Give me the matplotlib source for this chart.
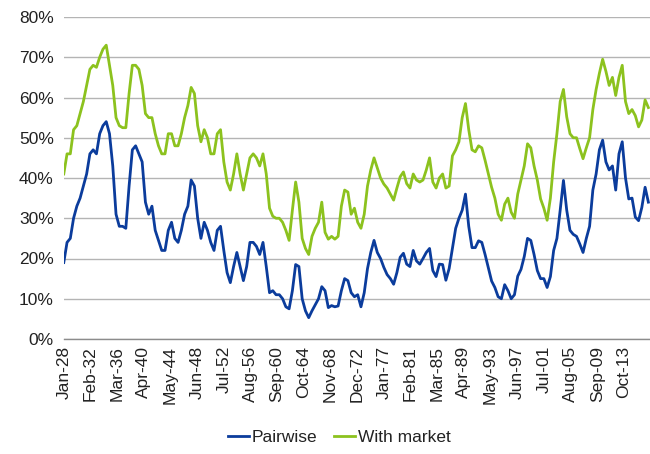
import matplotlib
matplotlib.use("Agg")
import matplotlib.pyplot as plt
from matplotlib.ticker import FuncFormatter

# Half-yearly readings (Jan-1928 onwards), values in %
pairwise = [
    19, 24, 25, 30, 33, 35, 38, 41, 46, 47,
    46, 51, 53, 54, 51, 43, 31, 28, 28, 27.5,
    38, 47, 48, 46, 44, 34, 31, 33, 27, 24.5,
    22, 22, 27, 29, 25, 24, 27, 31, 33, 39.5,
    38, 30, 25, 29, 27, 24, 22, 27, 28, 22,
    16.5, 14, 18, 21.5, 18, 14.5, 18, 24, 24, 23,
    21, 24, 18, 11.5, 12, 11, 11, 10, 8, 7.5,
    12, 18.5, 18, 10, 7, 5.3, 7, 8.5, 10, 13,
    12, 7.8, 8.3, 8, 8.2, 12, 15, 14.5, 11.5, 10.5,
    11, 8, 11.5, 17.5, 21.5, 24.5, 21.5, 20, 17.8, 16,
    15, 13.6, 16.5, 20.3, 21.3, 18.6, 18, 22, 19.4, 18.6,
    20, 21.5, 22.5, 17, 15.5, 18.6, 18.5, 14.6, 17.5, 22.5,
    27.5, 30, 32, 36, 28, 22.7, 22.7, 24.4, 24, 21,
    17.7, 14.4, 12.8, 10.5, 10, 13.5, 12, 10, 11, 15.6,
    17.3, 20.5, 25, 24.5, 21, 17, 15, 15, 12.8, 15.5,
    22, 25, 32, 39.4, 32, 27, 26, 25.5, 23.6, 21.5,
    25, 28, 37, 41, 47, 49.4, 44, 42, 43, 37,
    46, 49, 40, 34.8, 35, 30.3, 29.4, 32.7, 37.7, 34,
]
with_market = [
    41, 46, 46, 52, 53, 56, 59, 63, 67, 68,
    67.5, 70, 72, 73, 68, 63, 55, 53, 52.5, 52.5,
    61, 68, 68, 67, 63, 56, 55, 55, 51, 48,
    46, 46, 51, 51, 48, 48, 51, 55, 58, 62.5,
    61, 53, 49, 52, 50, 46, 46, 51, 52, 44,
    39, 37, 41, 46, 41, 37, 41, 45, 46, 45,
    43, 46, 41, 32.5, 30.5, 30, 30, 29, 27, 24.5,
    32, 39, 34, 25, 22.5, 21, 25.5, 27.5, 29, 34,
    26.5, 24.8, 25.5, 24.8, 25.5, 33, 37, 36.5, 31, 32.5,
    29, 27.5, 31, 38, 42, 45, 42.5, 40, 38.5, 37.5,
    36, 34.5, 37.5, 40.3, 41.5, 38.6, 37.5, 41, 39.5, 39,
    39.5, 42, 45, 39, 37.5, 40, 41, 37.5, 38, 45.5,
    47, 49, 55, 58.5, 52, 47, 46.5, 48, 47.5, 44.4,
    41, 37.7, 35, 31, 29.5, 33.5, 35, 31.5, 30, 36,
    39.5, 43, 48.5, 47.5, 43, 39.5, 34.8, 32.5, 29.5, 35,
    44, 51, 59, 62, 55.2, 51, 50, 50, 47.3, 44.8,
    47.5, 50, 57, 62, 66, 69.5, 66.5, 63, 65, 60.5,
    65, 68, 59, 56, 57, 55.5, 52.7, 54.4, 59.4, 57.5,
]
tick_labels = ["Jan-28", "Feb-32", "Mar-36", "Apr-40", "May-44", "Jun-48",
               "Jul-52", "Aug-56", "Sep-60", "Oct-64", "Nov-68", "Dec-72",
               "Jan-77", "Feb-81", "Mar-85", "Apr-89", "May-93", "Jun-97",
               "Jul-01", "Aug-05", "Sep-09", "Oct-13"]
series_names = ["Pairwise", "With market"]

months = [6 * i for i in range(len(pairwise))]
tick_months = [49 * i for i in range(len(tick_labels))]

plt.rcParams['font.family'] = ['Liberation Sans', 'DejaVu Sans']

fig = plt.figure(figsize=(6.5, 4.54), dpi=100)
ax = fig.add_axes([63.5 / 650, 1 - 339 / 454, 1 - 63.5 / 650, (339 - 17) / 454])

blue = '#0B3C9C'
green = '#8CC21E'
l1, = ax.plot(months, pairwise, color=blue, lw=2.0, label=series_names[0])
l2, = ax.plot(months, with_market, color=green, lw=2.0, label=series_names[1])

ax.set_xlim(-0.5, 1077)
ax.set_ylim(0, 80)
ax.set_yticks(range(0, 81, 10))
ax.yaxis.set_major_formatter(FuncFormatter(lambda v, p: f"{int(v)}%"))
ax.set_xticks(tick_months)
ax.set_xticklabels(tick_labels, rotation=90)

ax.grid(axis='y', color='#B4B4B4', lw=1.0)
ax.set_axisbelow(True)
for s in ['top', 'right', 'left']:
    ax.spines[s].set_visible(False)
ax.spines['bottom'].set_color('#8C8C8C')
ax.spines['bottom'].set_linewidth(1.0)

ax.tick_params(axis='y', length=0, pad=7, labelsize=12.5, labelcolor='#222222')
ax.tick_params(axis='x', length=0, pad=5, labelsize=12.5, labelcolor='#222222')

fig.legend(handles=[l1, l2], loc='center', bbox_to_anchor=(339 / 650, 1 - 437 / 454),
           ncol=2, frameon=False, fontsize=12.5, handlelength=1.2,
           handletextpad=0.15, columnspacing=1.0, labelcolor='#222222')

fig.savefig('out.png', dpi=100)
